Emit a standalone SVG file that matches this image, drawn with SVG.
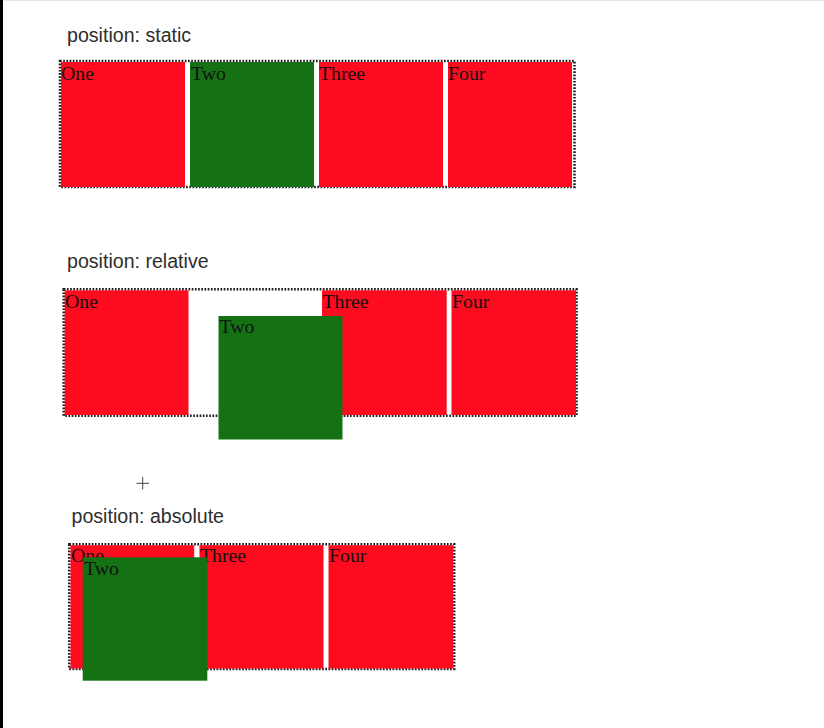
<svg xmlns="http://www.w3.org/2000/svg" width="824" height="728" viewBox="0 0 824 728">
<style>
.heading{font-family:"Liberation Sans",Arial,sans-serif;font-size:19.6px;fill:#2e2e2e}
.lbl{font-family:"Liberation Serif","Times New Roman",serif;font-size:19.8px;fill:#111}
.red{fill:#fe0b1f}
.green{fill:#147214}
.container{fill:none;stroke:#1e1e1e;stroke-width:2.6;stroke-dasharray:1.7 1.5}
</style>
<rect x="0" y="0" width="824" height="728" fill="#ffffff"/>
<rect x="0" y="0" width="824" height="1" fill="#e6e6e6"/>
<rect x="0" y="0" width="3" height="728" fill="#000"/>

<g id="static">
  <text class="heading" x="67" y="42">position: static</text>
  <rect id="static-container" class="container" x="60" y="61" width="514.5" height="126"/>
  <g id="static-one"><rect class="red" x="61" y="62" width="124" height="125"/><text class="lbl" x="61" y="80">One</text></g>
  <g id="static-two"><rect class="green" x="190" y="62" width="124" height="125"/><text class="lbl" x="191" y="80">Two</text></g>
  <g id="static-three"><rect class="red" x="319" y="62" width="124" height="125"/><text class="lbl" x="319" y="80">Three</text></g>
  <g id="static-four"><rect class="red" x="448" y="62" width="124" height="125"/><text class="lbl" x="448" y="80">Four</text></g>
</g>

<g id="relative">
  <text class="heading" x="67" y="268">position: relative</text>
  <rect id="relative-container" class="container" x="63.7" y="289.3" width="512.8" height="126.4"/>
  <g id="relative-one"><rect class="red" x="64.7" y="290.3" width="123.8" height="124.7"/><text class="lbl" x="65" y="308">One</text></g>
  <g id="relative-three"><rect class="red" x="322" y="290.3" width="124.7" height="124.7"/><text class="lbl" x="322.5" y="308">Three</text></g>
  <g id="relative-four"><rect class="red" x="451.5" y="290.3" width="124.5" height="124.7"/><text class="lbl" x="452" y="308">Four</text></g>
  <g id="relative-two"><rect class="green" x="218.5" y="316" width="124" height="123.5"/><text class="lbl" x="219.5" y="333">Two</text></g>
</g>

<g id="cursor">
  <path d="M142.7 477 V489.5 M136.5 483.3 H149" stroke="#444" stroke-width="1" fill="none"/>
</g>

<g id="absolute">
  <text class="heading" x="71.5" y="523.3">position: absolute</text>
  <rect id="absolute-container" class="container" x="69.3" y="544.3" width="384.9" height="124.7"/>
  <g id="absolute-one"><rect class="red" x="70.5" y="545.2" width="123.7" height="123.3"/><text class="lbl" x="71" y="562">One</text></g>
  <g id="absolute-three"><rect class="red" x="199.5" y="545.2" width="124" height="123.3"/><text class="lbl" x="200" y="562">Three</text></g>
  <g id="absolute-four"><rect class="red" x="328.5" y="545.2" width="124.7" height="123.3"/><text class="lbl" x="329" y="562">Four</text></g>
  <g id="absolute-two"><rect class="green" x="82.7" y="557.3" width="124.6" height="123.4"/><text class="lbl" x="84" y="575">Two</text></g>
</g>
</svg>
